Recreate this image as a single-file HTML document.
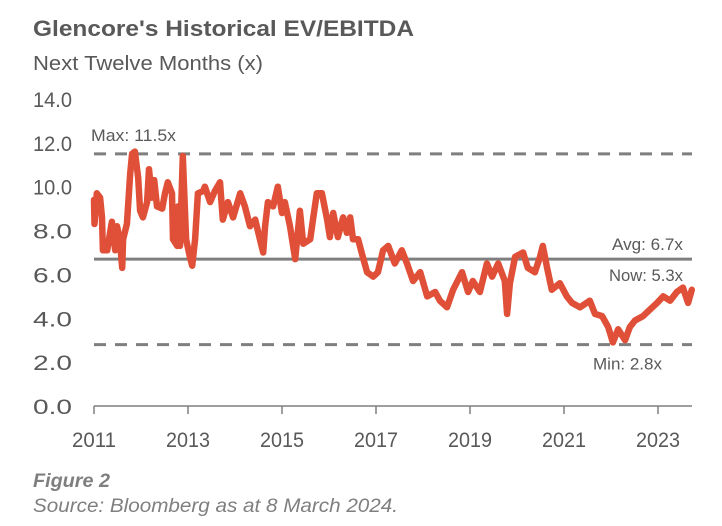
<!DOCTYPE html>
<html><head><meta charset="utf-8"><style>
html,body{margin:0;padding:0;background:#fff;}
svg{display:block;font-family:"Liberation Sans",Arial,sans-serif;}
</style></head><body>
<svg id="chart" width="722" height="526" viewBox="0 0 722 526">
<text x="33" y="36" font-size="22" font-weight="bold" fill="#595959" textLength="381" lengthAdjust="spacingAndGlyphs">Glencore's Historical EV/EBITDA</text>
<text x="33" y="70" font-size="20" fill="#595959" textLength="230" lengthAdjust="spacingAndGlyphs">Next Twelve Months (x)</text>
<g id="yticks"></g>
<g id="xticks"></g>
<g id="refs"></g>
<path id="series" fill="none" stroke="#e05038" stroke-width="6.5" stroke-linejoin="round" stroke-linecap="round"/>
<text x="33" y="487" font-size="19" font-weight="bold" font-style="italic" fill="#7f7f7f" textLength="77" lengthAdjust="spacingAndGlyphs">Figure 2</text>
<text x="33" y="512" font-size="19" font-style="italic" fill="#7f7f7f" textLength="365" lengthAdjust="spacingAndGlyphs">Source: Bloomberg as at 8 March 2024.</text>
</svg>
<script>
const yTickValues=[0,2,4,6,8,10,12,14];
const xTickYears=[2011,2013,2015,2017,2019,2021,2023];
const refValues=[11.5,6.7,2.8];
const refLabels=["Max: 11.5x","Avg: 6.7x","Min: 2.8x"];
const nowLabel="Now: 5.3x";
const dates=[2011.0,2011.01,2011.06,2011.13,2011.17,2011.19,2011.28,2011.38,2011.45,2011.49,2011.55,2011.60,2011.62,2011.70,2011.77,2011.81,2011.87,2011.94,2011.98,2012.04,2012.13,2012.17,2012.23,2012.28,2012.34,2012.45,2012.51,2012.57,2012.66,2012.68,2012.77,2012.79,2012.83,2012.89,2012.96,2013.04,2013.09,2013.15,2013.21,2013.32,2013.36,2013.47,2013.57,2013.68,2013.74,2013.85,2013.96,2014.11,2014.21,2014.32,2014.43,2014.53,2014.60,2014.64,2014.70,2014.81,2014.91,2015.0,2015.06,2015.17,2015.28,2015.38,2015.45,2015.60,2015.66,2015.74,2015.85,2015.96,2016.02,2016.09,2016.19,2016.30,2016.38,2016.45,2016.51,2016.62,2016.72,2016.81,2016.94,2017.04,2017.15,2017.26,2017.40,2017.55,2017.66,2017.79,2017.94,2018.09,2018.26,2018.36,2018.51,2018.64,2018.83,2018.96,2019.06,2019.21,2019.36,2019.47,2019.60,2019.74,2019.79,2019.85,2019.96,2020.13,2020.23,2020.38,2020.49,2020.55,2020.64,2020.74,2020.91,2021.06,2021.17,2021.34,2021.55,2021.66,2021.81,2021.94,2022.04,2022.15,2022.30,2022.40,2022.51,2022.68,2022.83,2022.98,2023.11,2023.26,2023.40,2023.53,2023.64,2023.72];
const values=[9.4,8.3,9.7,9.5,8.6,7.1,7.1,8.4,7.1,8.2,7.6,6.3,7.6,8.3,10.6,11.5,11.6,10.4,8.9,8.6,9.3,10.8,9.5,10.3,9.1,9.0,9.7,10.2,9.7,7.6,7.3,9.1,7.3,11.4,7.6,6.8,6.4,7.6,9.7,9.8,10.0,9.3,9.8,10.2,8.5,9.3,8.6,9.7,9.1,8.2,8.5,7.6,7.0,8.2,9.3,9.1,10.0,8.8,9.3,8.2,6.7,8.9,7.4,7.6,8.5,9.7,9.7,8.5,7.7,8.8,7.7,8.6,7.9,8.6,7.6,7.6,6.8,6.1,5.9,6.1,7.1,7.3,6.5,7.1,6.5,5.7,6.1,5.0,5.2,4.8,4.5,5.3,6.1,5.2,5.7,5.2,6.5,5.9,6.5,5.7,4.2,5.6,6.8,7.0,6.3,6.1,6.8,7.3,6.3,5.3,5.6,5.0,4.7,4.5,4.8,4.2,4.1,3.6,2.9,3.5,3.0,3.6,3.9,4.1,4.4,4.7,5.0,4.8,5.2,5.4,4.7,5.3];

const NS="http://www.w3.org/2000/svg";
const X0=94,XL=692,Y0=406,YT=99;
function xs(yr){return X0+(yr-2011)*47;}
function ys(v){return Y0-(v/14)*(Y0-YT);}
function mk(tag,attrs,parent){const e=document.createElementNS(NS,tag);for(const k in attrs)e.setAttribute(k,attrs[k]);parent.appendChild(e);return e;}
const svg=document.getElementById('chart');
const yg=document.getElementById('yticks'),xg=document.getElementById('xticks'),rg=document.getElementById('refs');
yTickValues.forEach(v=>{
  const t=mk('text',{x:33,y:ys(v)+8,'font-size':21,fill:'#595959',textLength:39,lengthAdjust:'spacingAndGlyphs'},yg);
  
  
  t.textContent=v.toFixed(1);
});
const ax=mk('line',{x1:X0,x2:XL,y1:Y0,y2:Y0,stroke:'#7f7f7f','stroke-width':1.5},xg);


xTickYears.forEach(yr=>{
  const tk=mk('line',{x1:xs(yr),x2:xs(yr),y1:Y0,y2:Y0+8,stroke:'#7f7f7f','stroke-width':1.5},xg);
  
  
  const t=mk('text',{x:xs(yr),y:447,'font-size':21,fill:'#595959','text-anchor':'middle',textLength:44,lengthAdjust:'spacingAndGlyphs'},xg);
  
  
  t.textContent=yr;
});
refValues.forEach((v,i)=>{
  const dashed=i!==1;
  const l=mk('line',{x1:X0,x2:XL,y1:ys(v),y2:ys(v),stroke:'#7f7f7f','stroke-width':3},rg);
  if(dashed)l.setAttribute('stroke-dasharray','12 9');
  
  
});
function lab(txt,x,y,anchor,w){const t=mk('text',{x:x,y:y,'font-size':17,fill:'#595959','text-anchor':anchor,textLength:w,lengthAdjust:'spacingAndGlyphs'},rg);
  
  
  t.textContent=txt;}
lab(refLabels[0],91,ys(refValues[0])-13,'start',85);
lab(refLabels[1],683,ys(refValues[1])-9,'end',71);
lab(nowLabel,683,ys(refValues[1])+22,'end',74);
lab(refLabels[2],662,ys(refValues[2])+25,'end',69);
let d='';
dates.forEach((yr,i)=>{d+=(i?'L':'M')+xs(yr).toFixed(1)+','+ys(values[i]).toFixed(1);});
document.getElementById('series').setAttribute('d',d);
svg.appendChild(document.getElementById('series'));
</script>
</body></html>
